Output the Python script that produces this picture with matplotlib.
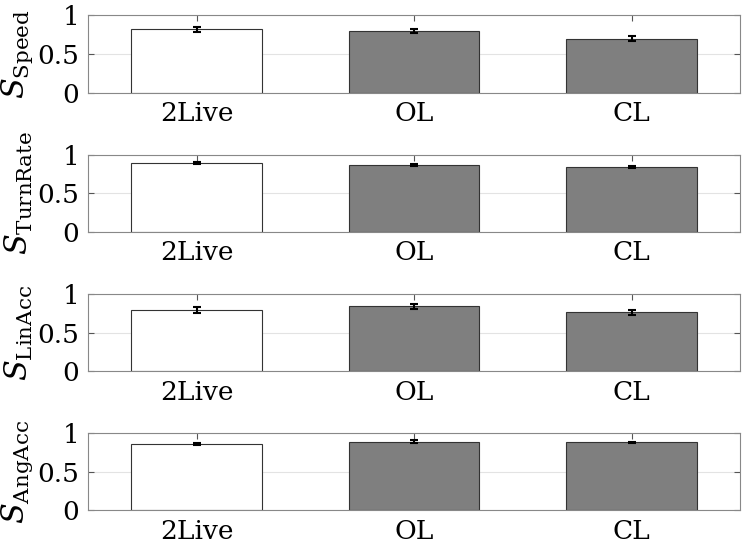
import numpy as np
import matplotlib.pyplot as plt

plt.rcParams['font.family'] = 'DejaVu Serif'
plt.rcParams['mathtext.fontset'] = 'dejavuserif'

conditions = ['2Live', 'OL', 'CL']
metrics = ['Speed', 'TurnRate', 'LinAcc', 'AngAcc']
means = {
    'Speed':    [0.82, 0.80, 0.70],
    'TurnRate': [0.89, 0.87, 0.84],
    'LinAcc':   [0.79, 0.84, 0.76],
    'AngAcc':   [0.86, 0.89, 0.88],
}
errors = {
    'Speed':    [0.03, 0.03, 0.03],
    'TurnRate': [0.012, 0.012, 0.01],
    'LinAcc':   [0.035, 0.035, 0.03],
    'AngAcc':   [0.012, 0.015, 0.01],
}
bar_colors = ['white', '#7f7f7f', '#7f7f7f']

fig, axes = plt.subplots(4, 1, figsize=(7.5, 5.5), dpi=100)
fig.subplots_adjust(left=0.117, right=0.987, top=0.972, bottom=0.072, hspace=0.8)

x = np.arange(1, len(conditions) + 1)
for ax, m in zip(axes, metrics):
    ax.bar(x, means[m], width=0.6, color=bar_colors, edgecolor='#333333',
           linewidth=0.8, zorder=2)
    ax.errorbar(x, means[m], yerr=errors[m], fmt='none', ecolor='black',
                elinewidth=1.5, capsize=3, capthick=1.5, zorder=3)
    ax.set_xlim(0.5, 3.5)
    ax.set_ylim(0, 1)
    ax.set_xticks(x)
    ax.set_xticklabels(conditions)
    ax.set_yticks([0, 0.5, 1])
    ax.set_yticklabels(['0', '0.5', '1'])
    ax.yaxis.grid(True, color='#e3e3e3', linewidth=0.8, zorder=0)
    ax.set_axisbelow(True)
    ax.tick_params(direction='in', top=True, right=True, labelsize=19,
                   length=4, color='#555555', pad=6)
    for s in ax.spines.values():
        s.set_color('#888888')
        s.set_linewidth(0.8)
    ax.set_ylabel(r'$S_{\mathrm{' + m + '}}$', fontsize=22, labelpad=2)

fig.savefig('out.png', dpi=100)
